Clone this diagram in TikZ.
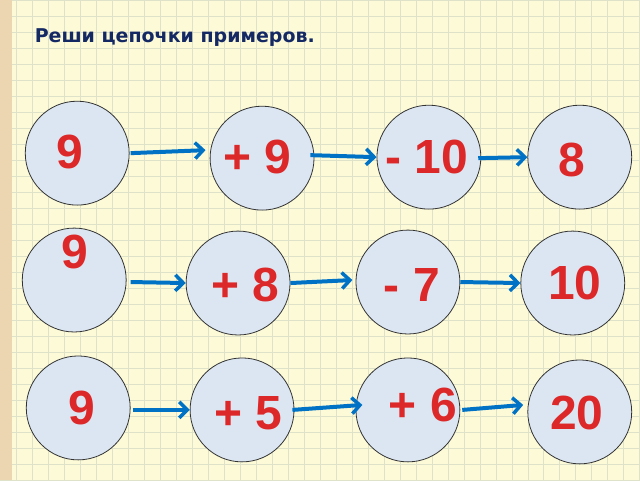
\documentclass[tikz,border=0pt]{standalone}
\usepackage{fontspec}
\setmainfont{Liberation Sans}
\newfontfamily\titlefont{DejaVu Sans}
\usetikzlibrary{arrows.meta}
\definecolor{paper}{RGB}{252,250,215}
\definecolor{gridline}{RGB}{222,226,200}
\definecolor{ballfill}{RGB}{220,230,242}
\definecolor{numred}{RGB}{220,40,40}
\definecolor{arrowblue}{RGB}{0,114,198}
\definecolor{titleblue}{RGB}{20,40,100}
\definecolor{strip}{RGB}{236,214,178}
\tikzstyle{ball} = [
	draw = black!80,
	circle,
	minimum size = 104pt,
	inner sep = 0pt,
	fill = ballfill,
	line width = 0.8pt
]
\tikzstyle{num} = [
	text = numred,
	font = \fontsize{48}{48}\selectfont\bfseries
]
\tikzstyle{link} = [
	arrowblue,
	line width = 4pt,
	-{Straight Barb[length=8pt,width=16pt,line width=3.5pt]}
]
\begin{document}
\begin{tikzpicture}[x=1pt,y=-1pt]
	% background
	\fill[paper] (0,0) rectangle (640,480);
	\foreach \g in {0,16,...,640}
		\draw[gridline, line width=0.6pt] (\g,0) -- (\g,480);
	\foreach \g in {0,16,...,480}
		\draw[gridline, line width=0.6pt] (0,\g) -- (640,\g);
	\fill[strip] (0,0) rectangle (12,480);
	\useasboundingbox (0,0) rectangle (640,480);
	\node[anchor=west, text=titleblue, font=\titlefont\fontsize{19}{19}\selectfont\bfseries] (title) at (31,37) {Реши цепочки примеров.};
	
	% balls
	\node [ball] (a1) at (77,153) {};
	\node [ball] (a2) at (262,158) {};
	\node [ball] (a3) at (429,157) {};
	\node [ball] (a4) at (580,157) {};
	\node [ball] (b1) at (74,280) {};
	\node [ball] (b2) at (238,283) {};
	\node [ball] (b3) at (408,282) {};
	\node [ball] (b4) at (573,283) {};
	\node [ball] (c1) at (78,408) {};
	\node [ball] (c2) at (242,410) {};
	\node [ball] (c3) at (408,410) {};
	\node [ball] (c4) at (580,412) {};
	
	% labels
	\node [num] (ta1) at (70,152) {9};
	\node [num] (ta2) at (257,157) {+ 9};
	\node [num] (ta3) at (427,157) {- 10};
	\node [num] (ta4) at (572,160) {8};
	\node [num] (tb1) at (75,252) {9};
	\node [num] (tb2) at (245,285) {+ 8};
	\node [num] (tb3) at (412,285) {- 7};
	\node [num] (tb4) at (575,283) {10};
	\node [num] (tc1) at (82,408) {9};
	\node [num] (tc2) at (248,413) {+ 5};
	\node [num] (tc3) at (423,405) {+ 6};
	\node [num] (tc4) at (577,413) {20};
	
	% arrows
	\draw[link] (a1.east) ++(1,0) -- ++(75,-3);
	\draw[link] (a2.east) ++(-4,-3) -- (a3.west);
	\draw[link] (a3.east) ++(-3,1) -- (a4.west);
	\draw[link] (b1.east) ++(4,2) -- (b2.west);
	\draw[link] (b2.east) ++(0,0) -- ++(62,-3);
	\draw[link] (b3.east) -- (b4.west);
	\draw[link] (c1.east) ++(2,2) -- (c2.west);
	\draw[link] (c2.east) ++(-2,0) -- ++(70,-5);
	\draw[link] (c3.east) ++(2,0) -- ++(61,-5);
\end{tikzpicture}
\end{document}
